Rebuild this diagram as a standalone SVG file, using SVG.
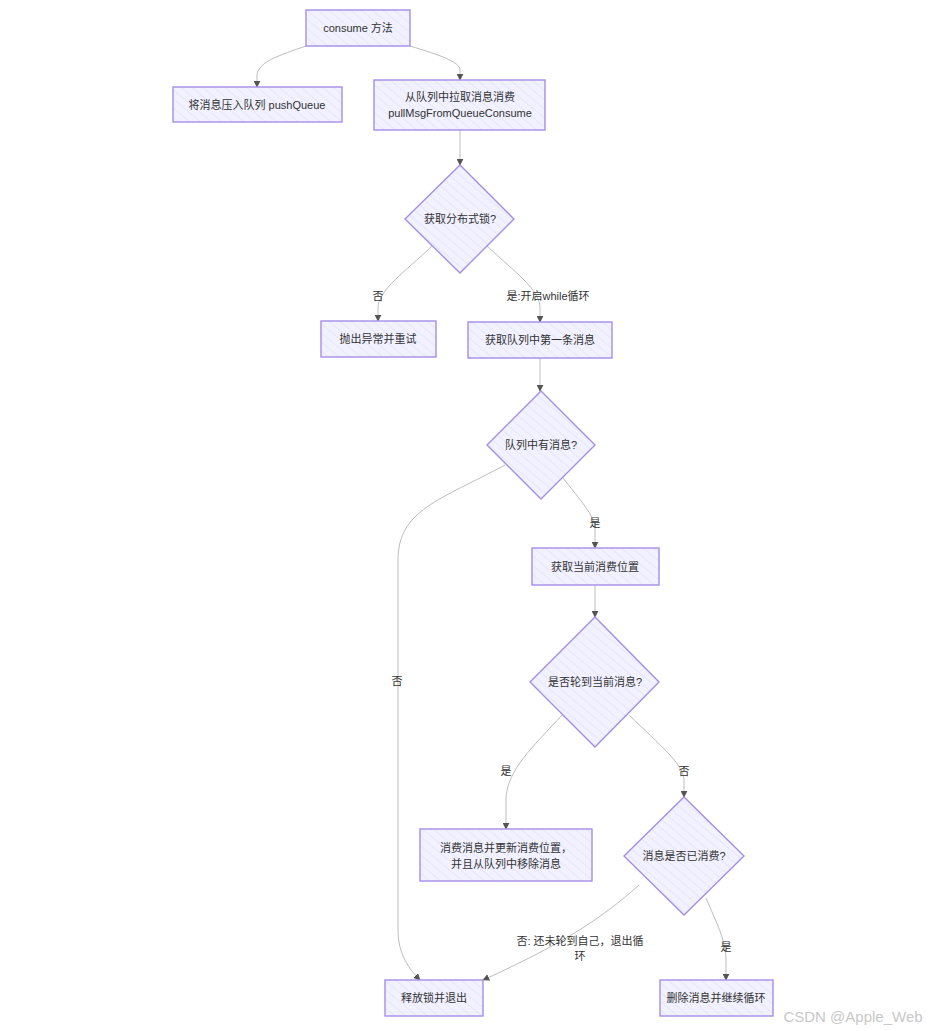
<svg xmlns="http://www.w3.org/2000/svg" width="931" height="1031" viewBox="0 0 931 1031">
<defs>
<pattern id="hatch" patternUnits="userSpaceOnUse" width="7" height="7" patternTransform="rotate(-50)">
<rect width="7" height="7" fill="#f1f1ff"/>
<line x1="0" y1="0" x2="0" y2="7" stroke="#e2e0fb" stroke-width="1.2"/>
</pattern>
<marker id="arr" viewBox="0 0 10 10" refX="9" refY="5" markerWidth="7" markerHeight="7" orient="auto-start-reverse" markerUnits="userSpaceOnUse">
<path d="M0,0 L10,5 L0,10 z" fill="#555"/>
</marker>
</defs>
<style>
.n{fill:url(#hatch);stroke:#a58ee8;stroke-width:1.4}
.t{font-family:"Liberation Sans","Noto Sans CJK SC",sans-serif;font-size:11px;fill:#333;text-anchor:middle;dominant-baseline:central}
.e{fill:none;stroke:#bdbdbd;stroke-width:1;marker-end:url(#arr)}
.l{font-family:"Liberation Sans","Noto Sans CJK SC",sans-serif;font-size:11px;fill:#333;text-anchor:middle;dominant-baseline:central}
</style>
<rect width="931" height="1031" fill="#ffffff"/>
<g id="edges">
<path class="e" d="M306,46 C280,55 257,62 257,76 L257,87"/>
<path class="e" d="M410,46 C440,55 460,62 460,70 L460,80"/>
<path class="e" d="M460,130 L460,165"/>
<path class="e" d="M432,246 C405,272 378,290 378,308 L378,321"/>
<path class="e" d="M487,246 C515,272 540,290 540,308 L540,322"/>
<path class="e" d="M540,358 L540,391"/>
<path class="e" d="M563,478 C580,500 595,515 595,530 L595,548"/>
<path class="e" d="M505,465 C440,500 398,510 398,560 L398,930 C398,955 410,970 420,980"/>
<path class="e" d="M595,585 L595,617"/>
<path class="e" d="M562,715 C535,745 506,770 506,800 L506,829"/>
<path class="e" d="M629,715 C660,745 684,765 684,780 L684,797"/>
<path class="e" d="M639,885 C600,920 560,945 483,980"/>
<path class="e" d="M706,898 C716,922 726,940 726,960 L726,980"/>
</g>
<g id="edge-labels">
<text class="l" x="378" y="296">否</text>
<text class="l" x="548" y="296">是:开启while循环</text>
<text class="l" x="595" y="523">是</text>
<text class="l" x="397" y="681">否</text>
<text class="l" x="506" y="771">是</text>
<text class="l" x="684" y="771">否</text>
<text class="l" x="580" y="941">否: 还未轮到自己，退出循</text>
<text class="l" x="580" y="956">环</text>
<text class="l" x="726" y="947">是</text>
</g>
<g id="n-consume"><rect class="n" x="306" y="10" width="104" height="36"/><text class="t" x="358" y="28">consume 方法</text></g>
<g id="n-push"><rect class="n" x="173" y="87" width="169" height="35"/><text class="t" x="257" y="105">将消息压入队列 pushQueue</text></g>
<g id="n-pull"><rect class="n" x="374" y="80" width="171" height="50"/><text class="t" x="460" y="97">从队列中拉取消息消费</text><text class="t" x="460" y="113">pullMsgFromQueueConsume</text></g>
<g id="n-lock"><polygon class="n" points="460,165 514,219 460,273 405,219"/><text class="t" x="460" y="219">获取分布式锁?</text></g>
<g id="n-throw"><rect class="n" x="321" y="321" width="115" height="36"/><text class="t" x="378" y="339">抛出异常并重试</text></g>
<g id="n-first"><rect class="n" x="468" y="322" width="144" height="36"/><text class="t" x="540" y="340">获取队列中第一条消息</text></g>
<g id="n-has"><polygon class="n" points="541,391 595,445 541,499 487,445"/><text class="t" x="541" y="445">队列中有消息?</text></g>
<g id="n-pos"><rect class="n" x="532" y="548" width="127" height="37"/><text class="t" x="595" y="567">获取当前消费位置</text></g>
<g id="n-turn"><polygon class="n" points="595,617 659,682 595,747 530,682"/><text class="t" x="595" y="682">是否轮到当前消息?</text></g>
<g id="n-consume-msg"><rect class="n" x="420" y="829" width="172" height="52"/><text class="t" x="506" y="848">消费消息并更新消费位置，</text><text class="t" x="506" y="864">并且从队列中移除消息</text></g>
<g id="n-consumed"><polygon class="n" points="684,797 744,856 684,915 624,856"/><text class="t" x="684" y="856">消息是否已消费?</text></g>
<g id="n-release"><rect class="n" x="385" y="980" width="98" height="36"/><text class="t" x="434" y="998">释放锁并退出</text></g>
<g id="n-delete"><rect class="n" x="660" y="980" width="113" height="36"/><text class="t" x="716" y="998">删除消息并继续循环</text></g>
<text x="853" y="1016" style="font-family:'Liberation Sans',sans-serif;font-size:15px;fill:#c8c8c8;text-anchor:middle;dominant-baseline:central">CSDN @Apple_Web</text>
</svg>
